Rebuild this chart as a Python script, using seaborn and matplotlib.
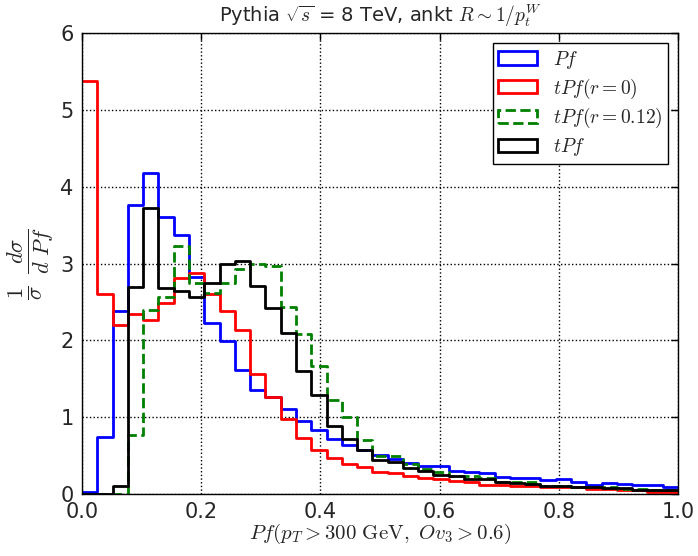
import numpy as np
import pandas as pd
import matplotlib
matplotlib.use("Agg")
import matplotlib.pyplot as plt
from matplotlib.patches import Patch
import seaborn as sns

# ---- data (bin heights, 39 equal bins on [0, 1]) ----
n_bins = 39
x_range = (0.0, 1.0)

pf = [0.02, 0.74, 2.38, 3.76, 4.18, 3.60, 3.37, 2.83, 2.22, 1.99, 1.62, 1.36, 1.26,
      1.10, 0.95, 0.83, 0.72, 0.64, 0.57, 0.51, 0.46, 0.40, 0.37, 0.37, 0.30, 0.29,
      0.27, 0.22, 0.21, 0.21, 0.18, 0.19, 0.15, 0.12, 0.14, 0.13, 0.12, 0.12, 0.09]
tpf_r0 = [5.37, 2.60, 2.20, 2.34, 2.27, 2.48, 2.81, 2.87, 2.60, 2.38, 2.14, 1.56, 1.26,
          0.97, 0.73, 0.57, 0.47, 0.39, 0.35, 0.28, 0.27, 0.23, 0.21, 0.19, 0.17, 0.16,
          0.12, 0.12, 0.10, 0.10, 0.09, 0.09, 0.09, 0.07, 0.07, 0.05, 0.05, 0.03, 0.03]
tpf_r012 = [0.0, 0.0, 0.0, 0.77, 2.40, 2.57, 3.23, 2.75, 2.62, 2.75, 2.93, 2.99, 2.97,
            2.44, 2.08, 1.67, 1.22, 1.00, 0.70, 0.50, 0.49, 0.39, 0.33, 0.28, 0.24, 0.23,
            0.21, 0.15, 0.15, 0.15, 0.11, 0.11, 0.095, 0.095, 0.085, 0.07, 0.06, 0.05, 0.05]
tpf = [0.0, 0.0, 0.10, 2.69, 3.72, 2.68, 2.64, 2.56, 2.74, 2.99, 3.03, 2.71, 2.42,
       2.09, 1.60, 1.29, 0.89, 0.72, 0.57, 0.44, 0.42, 0.34, 0.30, 0.25, 0.23, 0.20,
       0.20, 0.15, 0.14, 0.13, 0.10, 0.10, 0.095, 0.095, 0.08, 0.08, 0.05, 0.05, 0.05]

labels = [r"$Pf$", r"$tPf(r=0)$", r"$tPf(r=0.12)$", r"$tPf$"]
x_ticks = [0.0, 0.2, 0.4, 0.6, 0.8, 1.0]
y_ticks = [0, 1, 2, 3, 4, 5, 6]

series = [pf, tpf_r0, tpf_r012, tpf]
colors = ["#0000ff", "#ff0000", "#008000", "#000000"]
styles = ["-", "-", "--", "-"]

sns.set_style("white")
plt.rcParams["mathtext.fontset"] = "cm"
plt.rcParams["font.family"] = ["DejaVu Sans"]

fig = plt.figure(figsize=(6.98, 5.56), dpi=100)
ax = fig.add_axes([82 / 698, 1 - 494 / 556, (678 - 82) / 698, (494 - 33) / 556])

edges = np.linspace(x_range[0], x_range[1], n_bins + 1)
centers = 0.5 * (edges[:-1] + edges[1:])
for vals, lab, c, ls in zip(series, labels, colors, styles):
    df = pd.DataFrame({"x": centers, "w": vals})
    sns.histplot(data=df, x="x", weights="w", binwidth=(x_range[1] - x_range[0]) / n_bins,
                 binrange=x_range, element="step",
                 fill=False, color=c, linewidth=2, linestyle=ls, ax=ax)

ax.set_xlim(0, 1)
ax.set_ylim(0, 6)
ax.set_xticks(x_ticks)
ax.set_xticklabels([f"{t:.1f}" for t in x_ticks])
ax.set_yticks(y_ticks)
ax.tick_params(direction="in", top=True, right=True, labelsize=15, length=5,
               width=1, color="black", pad=6)
ax.grid(True, linestyle=":", color="black", linewidth=1)
for sp in ax.spines.values():
    sp.set_color("black")
    sp.set_linewidth(1)

ax.set_xlabel(r"$Pf(p_T>300\ \mathrm{GeV},\ Ov_3>0.6)$", fontsize=15, labelpad=0)
ax.set_ylabel(r"$\frac{1}{\sigma}\ \frac{d\sigma}{d\ Pf}$", fontsize=23, labelpad=3)
ax.set_title(r"Pythia $\sqrt{s}$ = 8 TeV, ankt $R\sim1/p_t^W$", fontsize=14, pad=8)

handles = [Patch(facecolor="white", edgecolor=c, linewidth=2, linestyle=ls)
           for c, ls in zip(colors, styles)]
leg = ax.legend(handles, labels, loc="upper right", fontsize=14, fancybox=False,
                framealpha=1, edgecolor="black", labelspacing=0.3, borderpad=0.3)
leg.get_frame().set_linewidth(1)

fig.savefig("out.png", dpi=100)
